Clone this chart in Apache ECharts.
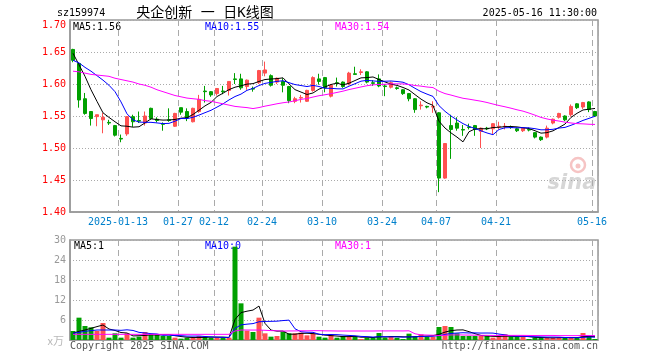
<!DOCTYPE html>
<html><head><meta charset="utf-8">
<script src="https://cdn.jsdelivr.net/npm/echarts@6/dist/echarts.min.js"></script>
<style>html,body{margin:0;padding:0;background:#fff}#c{width:660px;height:360px}</style>
</head><body><div id="c"></div>
<script>
const dates = ['2024-12-31','2025-01-02','2025-01-03','2025-01-06','2025-01-07','2025-01-08','2025-01-09','2025-01-10','2025-01-13','2025-01-14','2025-01-15','2025-01-16','2025-01-17','2025-01-20','2025-01-21','2025-01-22','2025-01-23','2025-01-24','2025-01-27','2025-02-05','2025-02-06','2025-02-07','2025-02-10','2025-02-11','2025-02-12','2025-02-13','2025-02-14','2025-02-17','2025-02-18','2025-02-19','2025-02-20','2025-02-21','2025-02-24','2025-02-25','2025-02-26','2025-02-27','2025-02-28','2025-03-03','2025-03-04','2025-03-05','2025-03-06','2025-03-07','2025-03-10','2025-03-11','2025-03-12','2025-03-13','2025-03-14','2025-03-17','2025-03-18','2025-03-19','2025-03-20','2025-03-21','2025-03-24','2025-03-25','2025-03-26','2025-03-27','2025-03-28','2025-03-31','2025-04-01','2025-04-02','2025-04-03','2025-04-07','2025-04-08','2025-04-09','2025-04-10','2025-04-11','2025-04-14','2025-04-15','2025-04-16','2025-04-17','2025-04-18','2025-04-21','2025-04-22','2025-04-23','2025-04-24','2025-04-25','2025-04-28','2025-04-29','2025-04-30','2025-05-06','2025-05-07','2025-05-08','2025-05-09','2025-05-12','2025-05-13','2025-05-14','2025-05-15','2025-05-16'];

const opens = [1.654,1.632,1.577,1.557,1.549,1.544,1.540,1.535,1.515,1.522,1.549,1.543,1.539,1.562,1.545,1.538,1.544,1.534,1.563,1.557,1.541,1.557,1.589,1.588,1.585,1.589,1.590,1.608,1.608,1.596,1.593,1.602,1.617,1.613,1.603,1.604,1.596,1.573,1.578,1.573,1.590,1.608,1.610,1.581,1.602,1.603,1.600,1.616,1.618,1.619,1.602,1.608,1.597,1.595,1.594,1.591,1.585,1.577,1.566,1.565,1.564,1.555,1.453,1.535,1.539,1.529,1.533,1.535,1.526,1.531,1.530,1.533,1.533,1.533,1.530,1.527,1.529,1.524,1.517,1.517,1.539,1.548,1.550,1.552,1.569,1.564,1.572,1.557];
const closes = [1.637,1.575,1.554,1.546,1.552,1.548,1.539,1.520,1.514,1.549,1.541,1.542,1.550,1.546,1.543,1.537,1.543,1.554,1.556,1.547,1.562,1.576,1.588,1.583,1.593,1.588,1.604,1.607,1.594,1.606,1.592,1.621,1.622,1.598,1.609,1.598,1.574,1.577,1.579,1.590,1.610,1.604,1.594,1.598,1.601,1.596,1.617,1.615,1.619,1.603,1.601,1.597,1.596,1.602,1.593,1.585,1.577,1.560,1.567,1.564,1.565,1.453,1.507,1.529,1.531,1.528,1.532,1.529,1.531,1.530,1.538,1.534,1.534,1.532,1.527,1.531,1.528,1.517,1.513,1.531,1.545,1.554,1.544,1.565,1.563,1.571,1.560,1.550];
const lows = [1.634,1.563,1.552,1.535,1.534,1.523,1.536,1.518,1.509,1.519,1.533,1.539,1.535,1.544,1.540,1.527,1.541,1.533,1.552,1.542,1.540,1.555,1.571,1.580,1.582,1.584,1.582,1.600,1.591,1.591,1.588,1.600,1.612,1.596,1.600,1.587,1.570,1.570,1.571,1.572,1.588,1.599,1.587,1.579,1.596,1.594,1.598,1.615,1.614,1.601,1.597,1.595,1.581,1.593,1.591,1.583,1.573,1.555,1.560,1.562,1.555,1.431,1.452,1.483,1.527,1.519,1.529,1.519,1.500,1.528,1.522,1.529,1.529,1.530,1.525,1.525,1.526,1.515,1.511,1.515,1.537,1.546,1.542,1.549,1.561,1.561,1.556,1.549];
const highs = [1.655,1.633,1.586,1.557,1.552,1.555,1.544,1.536,1.521,1.550,1.552,1.557,1.557,1.563,1.548,1.540,1.562,1.555,1.563,1.562,1.563,1.583,1.597,1.589,1.593,1.597,1.604,1.617,1.616,1.607,1.596,1.622,1.635,1.615,1.610,1.609,1.597,1.580,1.583,1.591,1.612,1.616,1.611,1.600,1.610,1.604,1.619,1.627,1.623,1.620,1.606,1.615,1.600,1.604,1.596,1.592,1.586,1.578,1.573,1.566,1.573,1.556,1.507,1.552,1.548,1.536,1.538,1.536,1.532,1.533,1.539,1.541,1.539,1.535,1.532,1.532,1.532,1.525,1.518,1.535,1.546,1.555,1.551,1.568,1.570,1.572,1.573,1.558];
// volume, in 万
const volumes = [2.7,6.7,4.2,3.8,2.7,5.1,0.7,2.0,0.7,2.0,0.7,1.0,2.4,1.7,1.7,1.2,1.2,0.7,0.4,0.7,0.7,1.2,1.0,0.7,0.7,0.7,0.7,28,11,2.8,2.4,6.7,2.0,1.0,1.2,2.5,2.0,2.0,2.2,1.4,2.0,1.0,0.7,1.5,0.7,1.2,1.0,1.0,0.3,0.7,0.7,2.1,0.7,1.0,0.7,0.3,1.9,1.0,1.7,1.0,1.0,3.9,4.2,3.9,2.0,1.2,1.2,1.2,1.2,1.2,0.7,1.0,1.7,1.0,1.0,1.0,0.3,0.7,0.7,0.7,0.7,0.7,0.7,0.7,0.7,2.1,1.2,0.3];

// moving-average values before enough history is visible
const ma5Head = [1.648,1.630,1.612,1.591];
const ma10Head = [1.637,1.633,1.626,1.620,1.613,1.606,1.598,1.588,1.572];
const ma30Head = [1.620,1.619,1.617,1.615,1.614,1.613,1.612,1.609,1.607,1.605,1.603,1.600,1.598,1.595,1.591,1.588,1.585,1.582,1.580,1.578,1.577,1.576,1.574,1.573,1.571,1.569,1.567,1.565,1.564];
const volMa5Head = [2.0,2.6,3.0,3.5];
const volMa10Head = [2.0,2.3,2.6,2.8,3.0,3.0,3.0,3.0,2.9];
const volMa30Head = [1.7,1.7,1.7,1.7,1.7,1.7,1.7,1.7,1.7,1.7,1.7,1.7,1.7,1.7,1.7,1.7,1.7,1.7,1.7,1.7,1.7,1.7,1.7,1.7,1.7,1.7,1.7,2.7,3.0];

const tickDates = ['2025-01-13','2025-01-27','2025-02-12','2025-02-24','2025-03-10','2025-03-24','2025-04-07','2025-04-21','2025-05-16'];
const tickTexts = ['2025-01-13','01-27','02-12','02-24','03-10','03-24','04-07','04-21','05-16'];

const titleCode = 'sz159974';
const titleName = '央企创新 一 日K线图';
const titleTime = '2025-05-16 11:30:00';
const priceTop = '1.70';
const priceLegend = ['MA5:1.56','MA10:1.55','MA30:1.54'];
const volLegend = ['MA5:1','MA10:0','MA30:1'];

function movingAvg(src, n, head) {
  return src.map((v, i) => {
    if (i < n - 1) return head[i];
    let s = 0;
    for (let k = i - n + 1; k <= i; k++) s += src[k];
    return +(s / n).toFixed(4);
  });
}

const RED = '#ff5050', GREEN = '#00a000';
const ohlc = dates.map((d, i) => [opens[i], closes[i], lows[i], highs[i]]);
const volData = volumes.map((v, i) => ({value: v, itemStyle: {color: closes[i] >= opens[i] ? RED : GREEN}}));
const ma5 = movingAvg(closes, 5, ma5Head);
const ma10 = movingAvg(closes, 10, ma10Head);
const ma30 = movingAvg(closes, 30, ma30Head);
const vma5 = movingAvg(volumes, 5, volMa5Head);
const vma10 = movingAvg(volumes, 10, volMa10Head);
const vma30 = movingAvg(volumes, 30, volMa30Head);

const MONO = 'DejaVu Sans Mono';
const isTick = (idx) => tickDates.indexOf(dates[idx]) >= 0;
const splitX = {show: true, interval: (idx) => isTick(idx), lineStyle: {color: '#aaa', type: [6, 4], width: 1}};
const splitY = {show: true, lineStyle: {color: '#aaa', type: [1, 2], width: 1}};
const axisLine = {show: true, lineStyle: {color: '#999', width: 1.5}};

const chart = echarts.init(document.getElementById('c'), null, {renderer: 'canvas'});
const txt = (text, x, y, fill, align, font) => ({
  type: 'text', x: x, y: y, silent: true,
  style: {text: text, fill: fill, align: align || 'left', verticalAlign: 'middle', font: font || ('10px ' + MONO)}
});

chart.setOption({
  animation: false,
  backgroundColor: '#fff',
  grid: [
    {left: 70, top: 20, width: 528, height: 192, show: true, borderColor: '#999', borderWidth: 1.5, backgroundColor: 'transparent'},
    {left: 70, top: 240, width: 528, height: 100, show: true, borderColor: '#999', borderWidth: 1.5, backgroundColor: 'transparent'}
  ],
  xAxis: [
    {type: 'category', gridIndex: 0, data: dates, boundaryGap: true, axisLine: axisLine, axisTick: {show: false},
     axisLabel: {show: true, interval: (idx) => isTick(idx), formatter: (v) => {const k = tickDates.indexOf(v); return k >= 0 ? tickTexts[k] : '';},
       color: '#0080cc', fontFamily: MONO, fontSize: 10, margin: 5, padding: [0, 6, 0, 0], hideOverlap: false},
     splitLine: splitX},
    {type: 'category', gridIndex: 1, data: dates, boundaryGap: true, axisLine: axisLine, axisTick: {show: false},
     axisLabel: {show: false}, splitLine: splitX}
  ],
  yAxis: [
    {type: 'value', gridIndex: 0, min: 1.40, max: 1.70, interval: 0.05, axisLine: axisLine, axisTick: {show: false},
     axisLabel: {color: '#ff0000', fontFamily: MONO, fontSize: 10, margin: 4, showMaxLabel: false, formatter: (v) => v.toFixed(2)},
     splitLine: splitY},
    {type: 'value', gridIndex: 1, min: 0, max: 30, interval: 6, axisLine: axisLine, axisTick: {show: false},
     axisLabel: {color: '#999', fontFamily: MONO, fontSize: 10, margin: 4, formatter: (v) => v === 0 ? '' : String(v)},
     splitLine: splitY}
  ],
  series: [
    {type: 'candlestick', xAxisIndex: 0, yAxisIndex: 0, data: ohlc, barWidth: 4,
     itemStyle: {color: RED, color0: GREEN, borderColor: RED, borderColor0: GREEN, borderWidth: 1}},
    {type: 'line', xAxisIndex: 0, yAxisIndex: 0, data: ma5, symbol: 'none', lineStyle: {color: '#000', width: 1}},
    {type: 'line', xAxisIndex: 0, yAxisIndex: 0, data: ma10, symbol: 'none', lineStyle: {color: '#0000ff', width: 1}},
    {type: 'line', xAxisIndex: 0, yAxisIndex: 0, data: ma30, symbol: 'none', lineStyle: {color: '#ff00ff', width: 1}},
    {type: 'bar', xAxisIndex: 1, yAxisIndex: 1, data: volData, barWidth: 5},
    {type: 'line', xAxisIndex: 1, yAxisIndex: 1, data: vma5, symbol: 'none', lineStyle: {color: '#000', width: 1}},
    {type: 'line', xAxisIndex: 1, yAxisIndex: 1, data: vma10, symbol: 'none', lineStyle: {color: '#0000ff', width: 1}},
    {type: 'line', xAxisIndex: 1, yAxisIndex: 1, data: vma30, symbol: 'none', lineStyle: {color: '#ff00ff', width: 1}}
  ],
  graphic: [
    txt(titleCode, 57, 13, '#000'),
    txt(titleName, 205, 13, '#000', 'center', '14px "DejaVu Sans Mono", "Noto Sans CJK SC"'),
    txt(titleTime, 597, 13, '#000', 'right'),
    txt(priceTop, 66, 25, '#ff0000', 'right'),
    txt(priceLegend[0], 73, 27, '#000'),
    txt(priceLegend[1], 205, 27, '#0000ff'),
    txt(priceLegend[2], 335, 27, '#ff00ff'),
    txt(volLegend[0], 74, 246, '#000'),
    txt(volLegend[1], 205, 246, '#0000ff'),
    txt(volLegend[2], 335, 246, '#ff00ff'),
    txt('x万', 64, 341, '#b8b8b8', 'right', '11px "Noto Sans CJK SC"'),
    txt('Copyright 2025 SINA.COM', 70, 346, '#555'),
    txt('http://finance.sina.com.cn', 598, 346, '#555', 'right'),
    {type: 'circle', shape: {cx: 578, cy: 165, r: 7}, silent: true, style: {fill: 'none', stroke: '#f6c4c4', lineWidth: 2.5}},
    {type: 'circle', shape: {cx: 578, cy: 166, r: 2.5}, silent: true, style: {fill: '#f6c4c4'}},
    txt('sina', 572, 184, '#d6d6d6', 'center', 'italic bold 21px "DejaVu Sans"')
  ]
});
</script>
</body></html>
